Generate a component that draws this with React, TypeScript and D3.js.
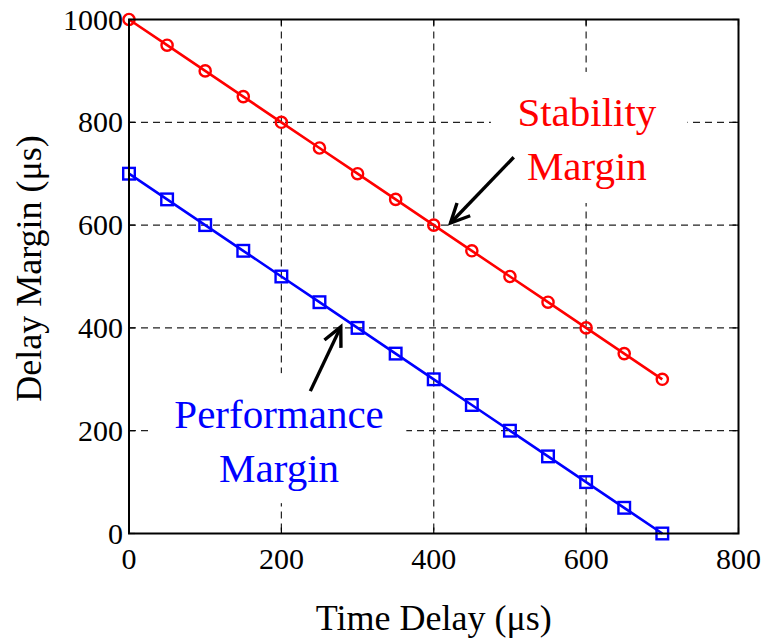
import React from "react";
import { scaleLinear, line } from "d3";

// Delay margin vs time delay, two straight series with markers
const delays = [0, 50, 100, 150, 200, 250, 300, 350, 400, 450, 500, 550, 600, 650, 700];
const stability = [1000, 950, 900, 850, 800, 750, 700, 650, 600, 550, 500, 450, 400, 350, 300];
const performance = [700, 650, 600, 550, 500, 450, 400, 350, 300, 250, 200, 150, 100, 50, 0];
const xTicks = [0, 200, 400, 600, 800];
const yTicks = [0, 200, 400, 600, 800, 1000];

const FONT = "'Liberation Serif', 'Times New Roman', serif";

export default function App() {
  const width = 763;
  const height = 641;
  const plot = { left: 129, right: 738.5, top: 19.5, bottom: 533.5 };

  const x = scaleLinear().domain([0, 800]).range([plot.left, plot.right]);
  const y = scaleLinear().domain([0, 1000]).range([plot.bottom, plot.top]);

  const lineGen = line<number>()
    .x((_, i) => x(delays[i]))
    .y((d) => y(d));

  const arrow = (x1: number, y1: number, x2: number, y2: number) => {
    const ax = x(x1), ay = y(y1), bx = x(x2), by = y(y2);
    const ang = Math.atan2(by - ay, bx - ax);
    const len = 21;
    const spread = 0.45;
    const h1 = [bx - len * Math.cos(ang - spread), by - len * Math.sin(ang - spread)];
    const h2 = [bx - len * Math.cos(ang + spread), by - len * Math.sin(ang + spread)];
    return (
      <g stroke="#000" strokeWidth={3.4} fill="none" strokeLinecap="butt">
        <line x1={ax} y1={ay} x2={bx} y2={by} />
        <polyline points={`${h1[0]},${h1[1]} ${bx},${by} ${h2[0]},${h2[1]}`} />
      </g>
    );
  };

  const box = (x0: number, x1: number, y0: number, y1: number) => (
    <rect x={x(x0)} y={y(y1)} width={x(x1) - x(x0)} height={y(y0) - y(y1)} fill="#fff" />
  );

  return (
    <svg width={width} height={height} style={{ position: "absolute", left: 0, top: 0 }} fontFamily={FONT}>
      <rect width={width} height={height} fill="#fff" />

      {/* grid */}
      <g stroke="#222" strokeWidth={1.2} strokeDasharray="7,5">
        {xTicks.slice(1, -1).map((t) => (
          <line key={`gx${t}`} x1={x(t)} x2={x(t)} y1={plot.top} y2={plot.bottom} />
        ))}
        {yTicks.slice(1, -1).map((t) => (
          <line key={`gy${t}`} x1={plot.left} x2={plot.right} y1={y(t)} y2={y(t)} />
        ))}
      </g>

      {/* text backgrounds hide the grid */}
      {box(475, 733, 643, 898)}
      {box(30, 364, 59, 312)}

      {/* ticks */}
      <g stroke="#000" strokeWidth={1.2}>
        {xTicks.map((t) => (
          <g key={`tx${t}`}>
            <line x1={x(t)} x2={x(t)} y1={plot.bottom} y2={plot.bottom - 6} />
            <line x1={x(t)} x2={x(t)} y1={plot.top} y2={plot.top + 6} />
          </g>
        ))}
        {yTicks.map((t) => (
          <g key={`ty${t}`}>
            <line x1={plot.left} x2={plot.left + 6} y1={y(t)} y2={y(t)} />
            <line x1={plot.right} x2={plot.right - 6} y1={y(t)} y2={y(t)} />
          </g>
        ))}
      </g>

      {/* series */}
      <path d={lineGen(stability) ?? ""} fill="none" stroke="#ff0000" strokeWidth={2.6} />
      <path d={lineGen(performance) ?? ""} fill="none" stroke="#0000ff" strokeWidth={2.6} />
      {stability.map((v, i) => (
        <circle key={`s${i}`} cx={x(delays[i])} cy={y(v)} r={5.6} fill="none" stroke="#ff0000" strokeWidth={2.4} />
      ))}
      {performance.map((v, i) => (
        <rect key={`p${i}`} x={x(delays[i]) - 5.8} y={y(v) - 5.8} width={11.6} height={11.6} fill="none" stroke="#0000ff" strokeWidth={2.4} />
      ))}

      {/* axes box */}
      <rect x={plot.left} y={plot.top} width={plot.right - plot.left} height={plot.bottom - plot.top} fill="none" stroke="#000" strokeWidth={2} />

      {/* tick labels */}
      <g fontSize={30} fill="#000">
        {xTicks.map((t) => (
          <text key={`lx${t}`} x={x(t)} y={plot.bottom + 35} textAnchor="middle">{t}</text>
        ))}
        {yTicks.map((t) => (
          <text key={`ly${t}`} x={plot.left - 6} y={y(t) + 10} textAnchor="end">{t}</text>
        ))}
      </g>

      {/* axis labels */}
      <text x={x(400)} y={630} fontSize={36} textAnchor="middle">Time Delay (μs)</text>
      <text transform={`translate(41,${(plot.top + plot.bottom) / 2 - 8}) rotate(-90)`} fontSize={36} textAnchor="middle">
        Delay Margin (μs)
      </text>

      {/* annotations */}
      <g fontSize={41} textAnchor="middle" fill="#ff0000">
        <text x={x(601)} y={y(793)}>Stability</text>
        <text x={x(601)} y={y(688)}>Margin</text>
      </g>
      <g fontSize={41} textAnchor="middle" fill="#0000ff">
        <text x={x(197)} y={y(205)}>Performance</text>
        <text x={x(197)} y={y(100)}>Margin</text>
      </g>
      {arrow(505, 732, 422, 604)}
      {arrow(238, 277, 278, 402)}
    </svg>
  );
}
